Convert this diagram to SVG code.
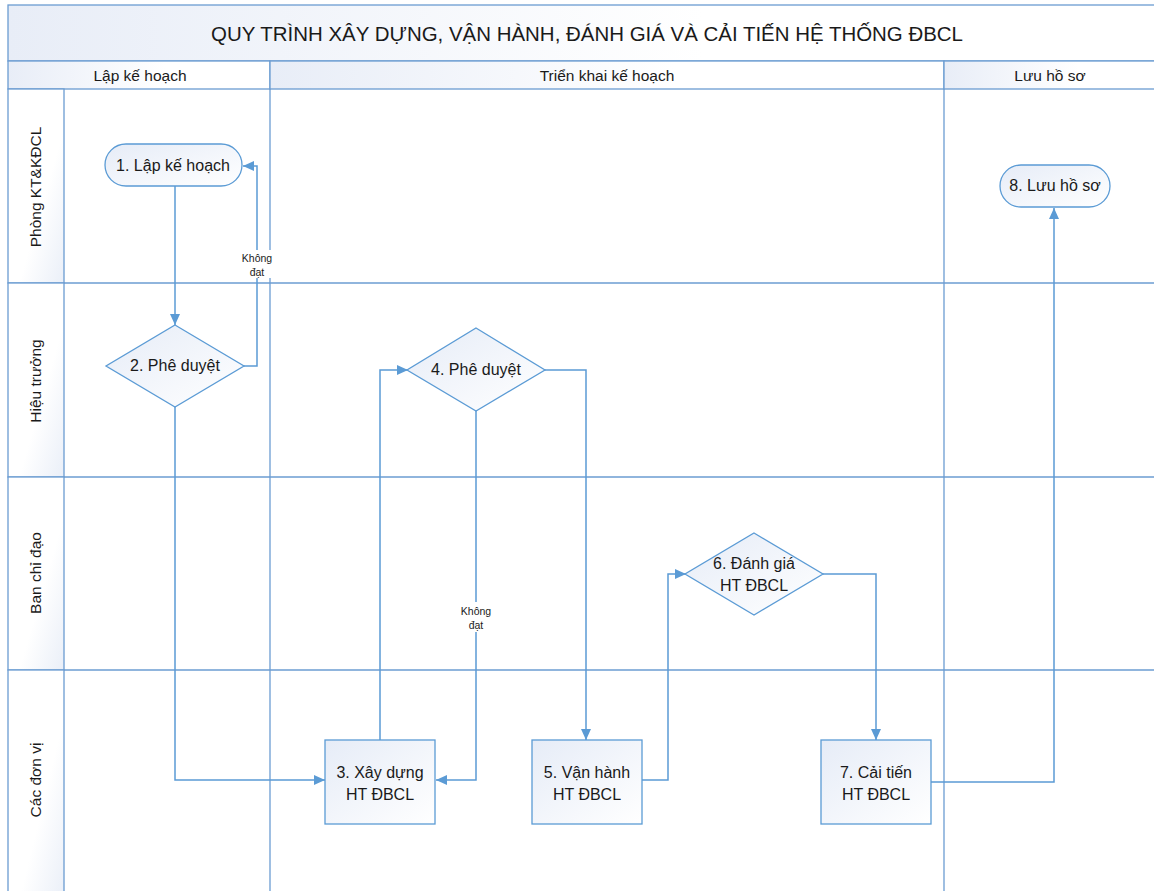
<svg xmlns="http://www.w3.org/2000/svg" width="1154" height="891" viewBox="0 0 1154 891">
<defs>
<linearGradient id="gNode" x1="0" y1="0" x2="1" y2="1">
<stop offset="0" stop-color="#E6ECF7"/>
<stop offset="1" stop-color="#FFFFFF"/>
</linearGradient>
<linearGradient id="gHead" x1="0" y1="0" x2="1" y2="0">
<stop offset="0" stop-color="#E8EDF7"/>
<stop offset="0.6" stop-color="#FFFFFF"/>
</linearGradient>
<linearGradient id="gLane" x1="0" y1="0" x2="1" y2="1">
<stop offset="0" stop-color="#FFFFFF"/>
<stop offset="0.6" stop-color="#FFFFFF"/>
<stop offset="1" stop-color="#EAEFF8"/>
</linearGradient>
<marker id="arr" markerUnits="userSpaceOnUse" markerWidth="12" markerHeight="10" refX="11" refY="5" orient="auto">
<path d="M0,0 L11,5 L0,10 Z" fill="#5B9BD5"/>
</marker>
<style>
.frame{fill:none;stroke:#6B9CD2;stroke-width:1.3}
.cell{stroke:#6B9CD2;stroke-width:1.3}
.node{fill:url(#gNode);stroke:#5B9BD5;stroke-width:1.3}
.con{fill:none;stroke:#5B9BD5;stroke-width:1.5;marker-end:url(#arr)}
text{font-family:"Liberation Sans",Arial,sans-serif;fill:#1a1a1a;text-anchor:middle}
.t{font-size:20px}
.h{font-size:15.5px}
.n{font-size:16px}
.s{font-size:10.5px}
</style>
</defs>
<rect width="1154" height="891" fill="#FFFFFF"/>
<g id="pool">
<rect class="cell" x="8" y="5" width="1160" height="56" fill="url(#gHead)"/>
<text class="t" x="587" y="41" textLength="752" lengthAdjust="spacingAndGlyphs">QUY TRÌNH XÂY DỰNG, VẬN HÀNH, ĐÁNH GIÁ VÀ CẢI TIẾN HỆ THỐNG ĐBCL</text>
<rect class="cell" x="8" y="61" width="262" height="28" fill="url(#gHead)"/>
<rect class="cell" x="270" y="61" width="674" height="28" fill="url(#gHead)"/>
<rect class="cell" x="944" y="61" width="224" height="28" fill="url(#gHead)"/>
<text class="h" x="140" y="81">Lập kế hoạch</text>
<text class="h" x="607" y="81">Triển khai kế hoạch</text>
<text class="h" x="1050" y="81">Lưu hồ sơ</text>
<rect class="cell" x="8" y="89" width="56" height="194" fill="url(#gLane)"/>
<rect class="cell" x="8" y="283" width="56" height="194" fill="url(#gLane)"/>
<rect class="cell" x="8" y="477" width="56" height="193" fill="url(#gLane)"/>
<rect class="cell" x="8" y="670" width="56" height="230" fill="url(#gLane)"/>
<text class="h" transform="translate(41,187) rotate(-90)">Phòng KT&amp;KĐCL</text>
<text class="h" transform="translate(41,381) rotate(-90)">Hiệu trưởng</text>
<text class="h" transform="translate(41,573) rotate(-90)">Ban chỉ đạo</text>
<text class="h" transform="translate(41,780) rotate(-90)">Các đơn vị</text>
<line class="frame" x1="64" y1="283" x2="1154" y2="283"/>
<line class="frame" x1="64" y1="477" x2="1154" y2="477"/>
<line class="frame" x1="64" y1="670" x2="1154" y2="670"/>
<line class="frame" x1="270" y1="89" x2="270" y2="891"/>
<line class="frame" x1="944" y1="89" x2="944" y2="891"/>
</g>
<g id="connectors">
<path class="con" d="M175,186 L175,325"/>
<path class="con" d="M244,366 L257,366 L257,166 L243,166"/>
<path class="con" d="M175,407 L175,780 L325,780"/>
<path class="con" d="M380,740 L380,370 L408,370"/>
<path class="con" d="M476,411 L476,780 L436,780"/>
<path class="con" d="M545,370 L586,370 L586,740"/>
<path class="con" d="M642,780 L668,780 L668,574 L686,574"/>
<path class="con" d="M823,574 L876,574 L876,740"/>
<path class="con" d="M931,782 L1054,782 L1054,208"/>
<rect x="237" y="250" width="40" height="28" fill="#FFFFFF"/>
<text class="s" x="257" y="262">Không</text>
<text class="s" x="257" y="276">đạt</text>
<rect x="456" y="602" width="40" height="30" fill="#FFFFFF"/>
<text class="s" x="476" y="615">Không</text>
<text class="s" x="476" y="629">đạt</text>
</g>
<g id="n1">
<rect class="node" x="105" y="144" width="137" height="42" rx="21" ry="21"/>
<text class="n" x="173" y="171">1. Lập kế hoạch</text>
</g>
<g id="n2">
<polygon class="node" points="175,325 244,366 175,407 106,366"/>
<text class="n" x="175" y="371">2. Phê duyệt</text>
</g>
<g id="n3">
<rect class="node" x="325" y="740" width="110" height="84"/>
<text class="n" x="380" y="778">3. Xây dựng</text>
<text class="n" x="380" y="800">HT ĐBCL</text>
</g>
<g id="n4">
<polygon class="node" points="476,328 545,370 476,411 407,370"/>
<text class="n" x="476" y="375">4. Phê duyệt</text>
</g>
<g id="n5">
<rect class="node" x="532" y="740" width="110" height="84"/>
<text class="n" x="587" y="778">5. Vận hành</text>
<text class="n" x="587" y="800">HT ĐBCL</text>
</g>
<g id="n6">
<polygon class="node" points="754,533 823,574 754,615 685,574"/>
<text class="n" x="754" y="569">6. Đánh giá</text>
<text class="n" x="754" y="591">HT ĐBCL</text>
</g>
<g id="n7">
<rect class="node" x="821" y="740" width="110" height="84"/>
<text class="n" x="876" y="778">7. Cải tiến</text>
<text class="n" x="876" y="800">HT ĐBCL</text>
</g>
<g id="n8">
<rect class="node" x="1000" y="165" width="110" height="42" rx="21" ry="21"/>
<text class="n" x="1055" y="191">8. Lưu hồ sơ</text>
</g>
</svg>
